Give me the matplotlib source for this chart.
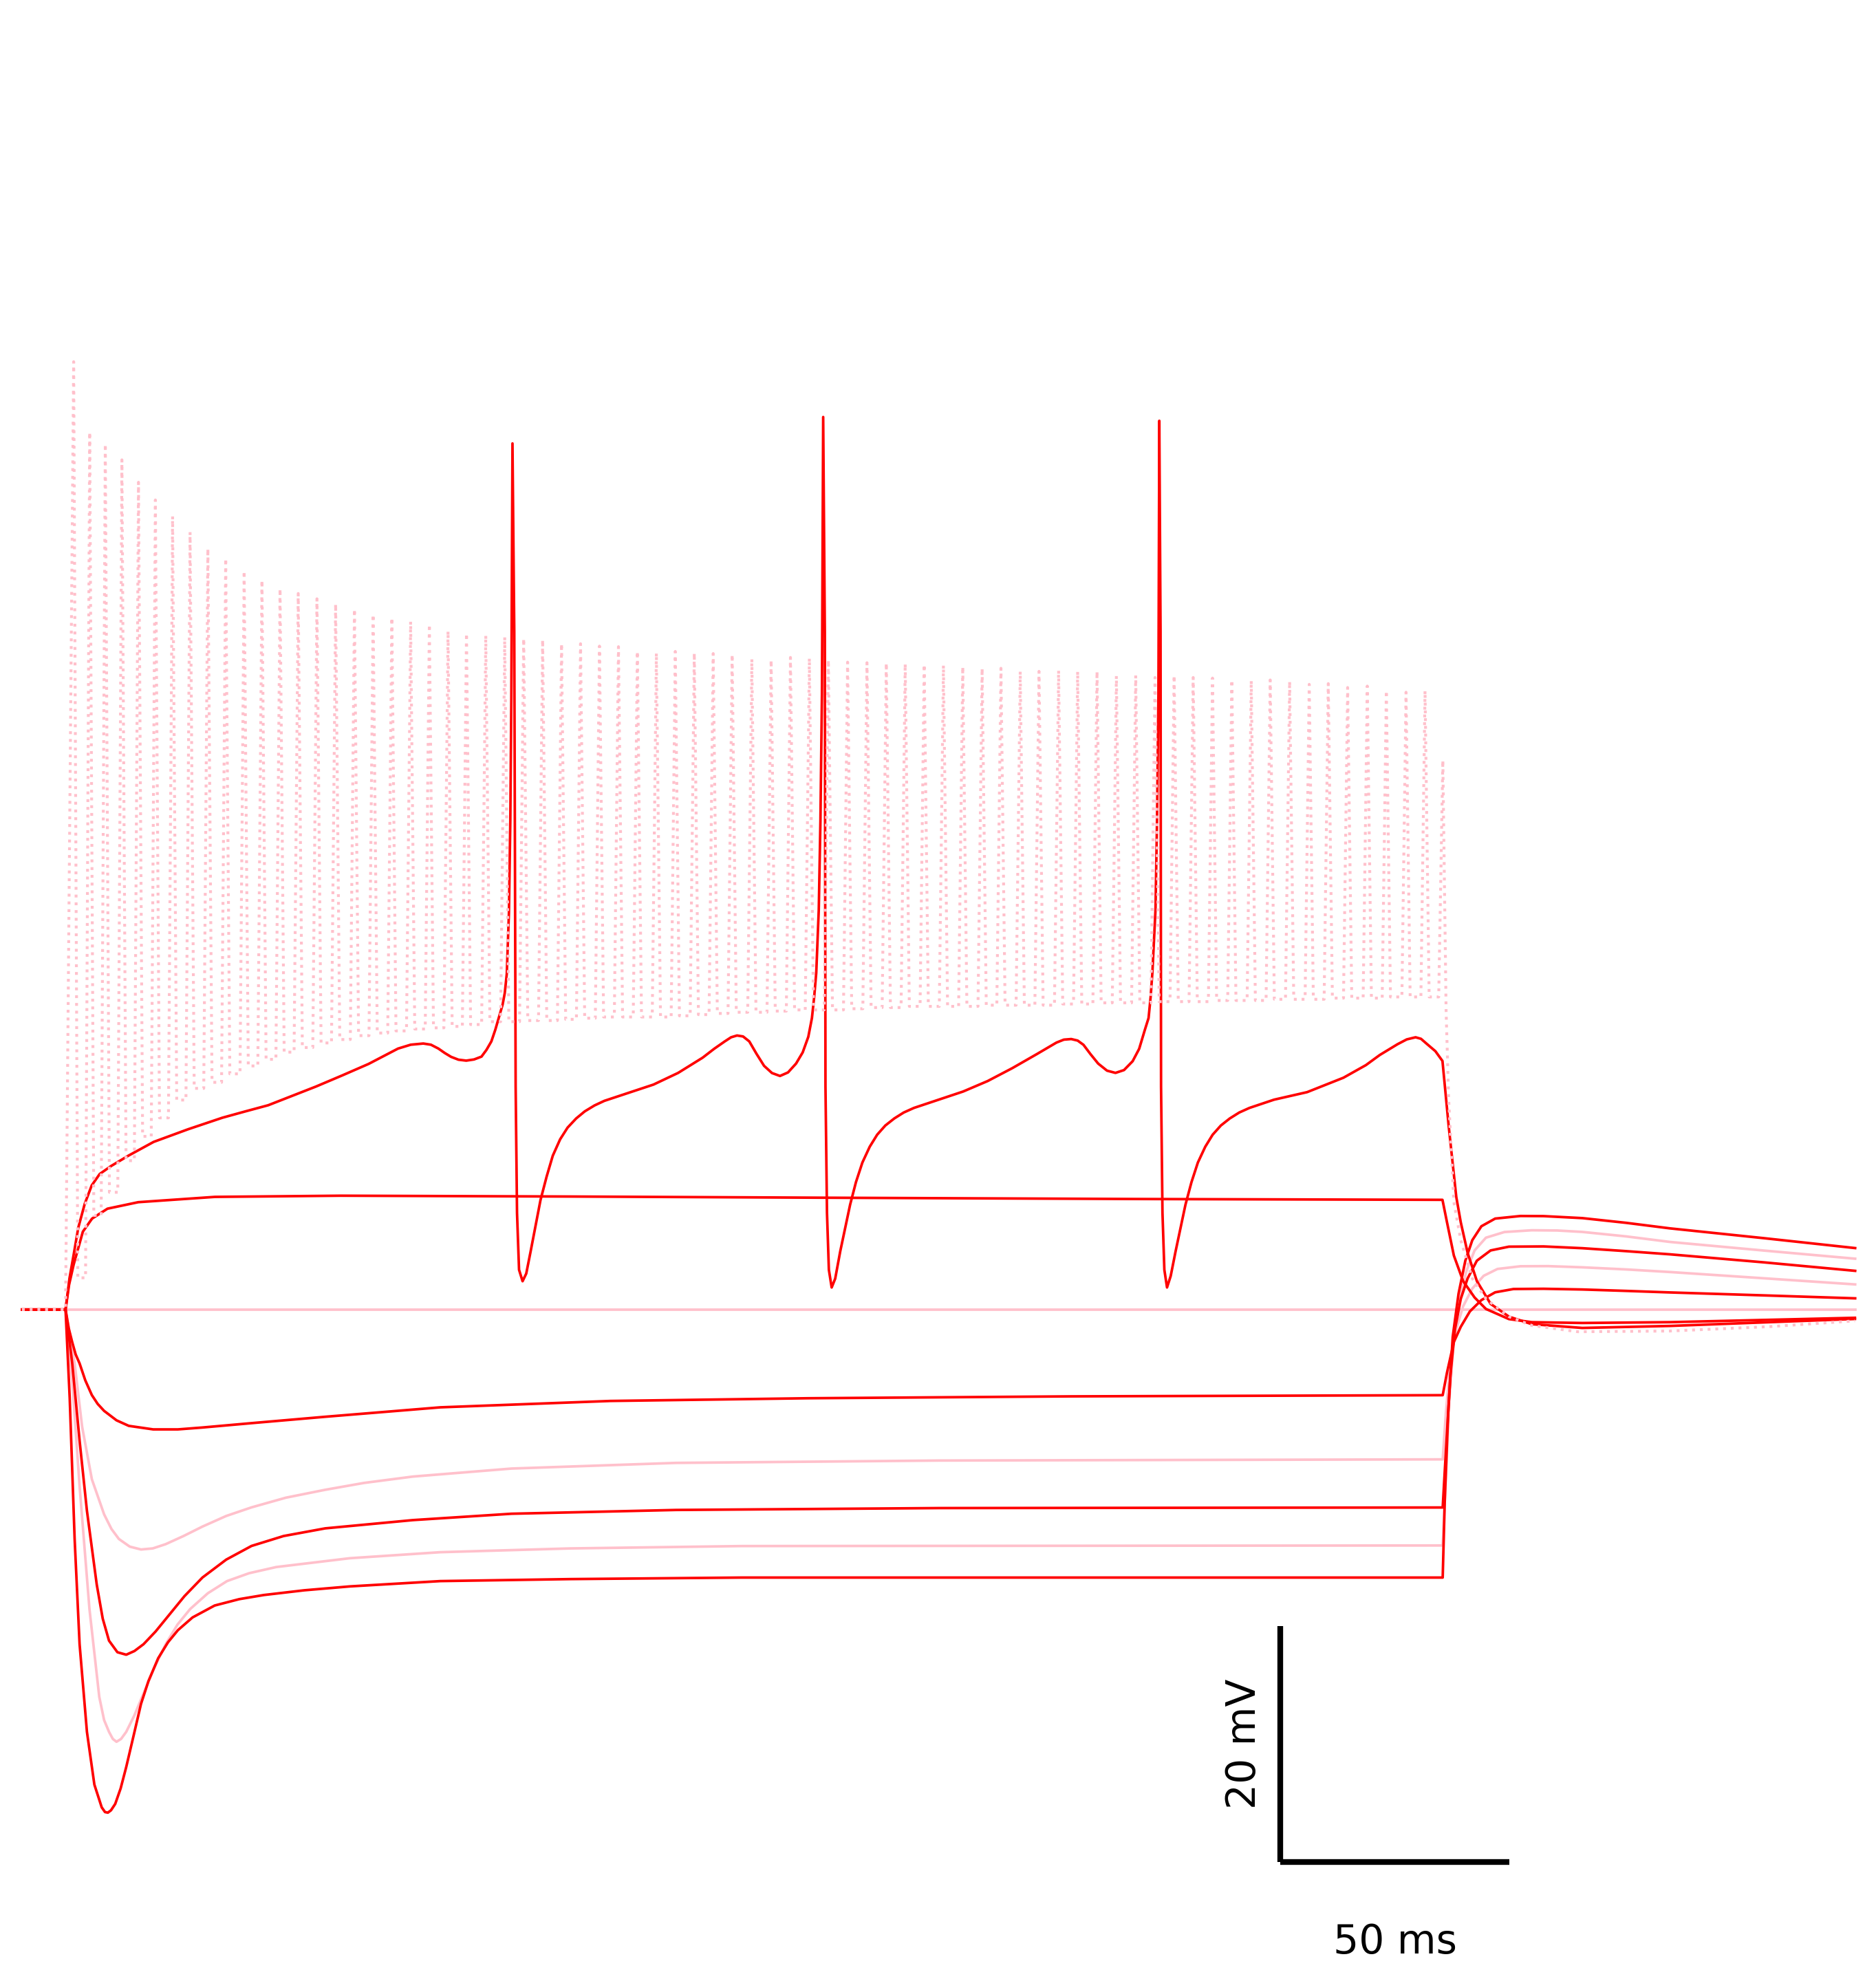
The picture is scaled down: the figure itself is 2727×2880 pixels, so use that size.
import numpy as np
import matplotlib
matplotlib.use('Agg')
import matplotlib.pyplot as plt

RED = '#ff0000'
PINK = '#ffc0cb'

# membrane potential traces, time in ms (step current from 0 to 300 ms), voltage in mV

# hyperpolarising steps
hyp5 = np.array([
    [-9.5, -70], [0, -70], [0.91, -77.54], [1.98, -89.45], [3.06, -98.37], [4.66, -105.8],
    [6.28, -110.27], [7.88, -112.2], [8.6, -112.6], [9.22, -112.65], [9.9, -112.45],
    [10.82, -111.91], [12.0, -110.6], [13.22, -108.78], [14.84, -106.1], [16.44, -103.43],
    [18.06, -101.5], [20.18, -99.56], [22.33, -98.2], [24.48, -97.18], [27.67, -96.1],
    [32.49, -95.09], [37.85, -94.55], [43.2, -94.2], [52.0, -93.8], [61.94, -93.47],
    [81.65, -93.02], [110.0, -92.85], [147.33, -92.72], [300.03, -92.72], [300.47, -86.34],
    [301.22, -78.79], [302.21, -72.32], [303.48, -68.66], [304.96, -65.86], [306.48, -64.12],
    [308.46, -62.94], [311.46, -62.29], [316.97, -62.07], [322.0, -62.08], [330.45, -62.25],
    [340.0, -62.65], [349.56, -63.12], [370.0, -63.95], [389.89, -64.79]])

hyp4 = np.array([
    [-9.5, -70], [0, -70], [1.46, -76.06], [3.06, -84.98], [5.21, -95.39], [7.35, -102.84],
    [8.4, -104.8], [9.47, -105.8], [10.3, -106.4], [11.1, -106.64], [12.1, -106.4],
    [13.22, -105.8], [15.0, -104.4], [16.99, -102.54], [19.3, -100.4], [21.81, -98.37],
    [24.4, -96.7], [27.15, -95.39], [31.0, -94.05], [35.18, -93.02], [40.0, -92.35],
    [45.89, -91.83], [61.94, -91.08], [81.65, -90.57], [110.0, -90.25], [147.33, -90.05],
    [300.03, -90.0], [300.72, -84.18], [301.47, -77.71], [302.46, -72.54], [303.73, -69.09],
    [305.21, -66.71], [306.98, -64.99], [309.45, -63.91], [313.47, -63.43], [319.44, -63.28],
    [325.0, -63.3], [330.45, -63.42], [340.0, -63.8], [349.56, -64.27], [370.0, -65.0],
    [389.89, -65.69]])

hyp3 = np.array([
    [-9.5, -70], [0, -70], [1.46, -74.57], [3.06, -81.12], [4.66, -87.06], [6.8, -93.32],
    [8.1, -96.2], [9.47, -98.07], [11.3, -99.05], [13.22, -99.26], [15.0, -98.95],
    [16.99, -98.37], [19.6, -97.3], [22.33, -96.0], [25.9, -94.3], [29.82, -92.72],
    [35.0, -91.2], [40.52, -90.04], [47.5, -89.2], [56.57, -88.55], [75.65, -87.85],
    [97.15, -87.31], [132.99, -86.99], [190.36, -86.83], [300.03, -86.78], [300.72, -82.03],
    [301.71, -75.56], [302.7, -71.67], [303.97, -69.09], [305.45, -67.37], [307.47, -65.86],
    [310.47, -64.99], [314.46, -64.67], [322.0, -64.65], [330.45, -64.8], [340.0, -65.05],
    [349.56, -65.32], [370.0, -66.0], [389.89, -66.72]])

hyp2 = np.array([
    [-9.5, -70], [0, -70], [1.98, -74.57], [3.61, -79.93], [5.73, -84.38], [8.4, -87.36],
    [10.0, -88.6], [11.62, -89.45], [14.0, -90.1], [16.44, -90.34], [19.0, -90.25],
    [21.81, -89.89], [25.7, -89.2], [29.82, -88.4], [35.0, -87.5], [40.52, -86.77],
    [48.0, -85.95], [56.57, -85.28], [65.0, -84.7], [75.65, -84.16], [97.15, -83.48],
    [132.99, -83.0], [190.36, -82.8], [300.03, -82.7], [300.72, -78.79], [301.71, -74.48],
    [302.98, -71.67], [304.47, -69.73], [306.48, -68.22], [308.96, -67.14], [311.96, -66.56],
    [316.97, -66.33], [323.0, -66.32], [330.45, -66.42], [340.0, -66.6], [349.56, -66.82],
    [370.0, -67.35], [389.89, -67.87]])

hyp1 = np.array([
    [-9.5, -70], [0, -70], [0.7, -71.6], [1.46, -72.78], [2.2, -73.8], [3.06, -74.57],
    [4.3, -76.0], [5.73, -77.25], [7.0, -78.0], [8.4, -78.59], [11.1, -79.39],
    [13.77, -79.86], [19.1, -80.16], [24.48, -80.16], [29.82, -80.0], [40.52, -79.63],
    [56.57, -79.09], [81.65, -78.29], [118.68, -77.75], [161.68, -77.52], [219.02, -77.36],
    [300.03, -77.26], [300.97, -75.34], [302.46, -72.75], [303.97, -71.46], [305.95, -70.16],
    [308.46, -69.2], [311.46, -68.54], [315.45, -68.26], [322.0, -68.24], [330.45, -68.3],
    [340.0, -68.42], [349.56, -68.55], [370.0, -68.8], [389.89, -69.05]])

rest = np.array([[-9.5, -70], [389.89, -70]])

# depolarising step below threshold
dep1 = np.array([
    [-9.5, -70], [0, -70], [0.77, -67.9], [1.76, -66.2], [3.77, -63.4], [5.78, -62.29],
    [9.14, -61.45], [15.83, -60.9], [32.54, -60.45], [60.0, -60.35], [110.0, -60.42],
    [165.0, -60.52], [233.0, -60.63], [299.98, -60.7], [300.97, -62.61], [302.46, -65.42],
    [304.47, -67.58], [306.98, -68.98], [309.45, -69.95], [314.46, -70.81], [319.44, -71.07],
    [330.45, -71.14], [349.53, -71.07], [389.84, -70.7]])

# three-spike trace
dep2 = np.array([
    [-9.5, -70], [0, -70], [0.86, -67.35], [1.79, -65.3], [2.78, -63.05], [4.19, -61.03],
    [5.7, -59.48], [7.44, -58.51], [9.94, -57.83], [13.68, -56.96], [19.19, -55.79],
    [26.68, -54.72], [34.17, -53.74], [39.2, -53.2], [44.16, -52.68], [49.3, -51.9],
    [54.54, -51.1], [60.3, -50.15], [66.02, -49.18], [72.43, -47.88], [75.2, -47.55],
    [77.94, -47.45], [79.6, -47.55], [81.24, -47.88], [82.6, -48.25], [84.0, -48.58],
    [85.6, -48.82], [87.29, -48.9], [89.0, -48.8], [90.62, -48.56], [91.7, -47.99],
    [92.77, -47.27], [93.63, -46.28], [94.37, -45.29], [95.22, -44.15], [95.69, -43.17],
    [96.13, -41.54], [96.6, -36.34], [96.9, -28.53], [97.12, -18.11], [97.37, 3.42],
    [97.76, -12.54], [98.06, -51.1], [98.36, -61.81], [98.8, -66.63], [99.57, -67.6],
    [100.37, -66.95], [101.33, -65.06], [103.48, -60.71], [104.81, -58.73], [106.15, -56.96],
    [107.75, -55.57], [109.37, -54.58], [111.25, -53.8], [113.12, -53.2], [115.24, -52.7],
    [117.38, -52.31], [122.75, -51.62], [128.09, -50.93], [133.46, -49.94], [138.8, -48.65],
    [141.3, -47.9], [143.62, -47.27], [145.0, -46.92], [146.29, -46.77], [147.6, -46.85],
    [148.96, -47.27], [150.5, -48.3], [152.18, -49.34], [153.9, -49.95], [155.65, -50.2],
    [157.4, -49.9], [159.15, -49.15], [160.6, -48.2], [161.82, -46.88], [162.2, -46.1],
    [162.61, -45.29], [163.1, -43.5], [163.55, -41.46], [164.1, -36.1], [164.46, -28.61],
    [164.79, -17.9], [165.06, 5.66], [165.42, -12.54], [165.56, -51.1], [165.89, -61.81],
    [166.3, -66.63], [166.91, -68.13], [167.68, -67.38], [168.78, -65.06], [170.93, -61.11],
    [172.2, -59.2], [173.6, -57.54], [175.2, -56.2], [176.82, -55.18], [178.6, -54.4],
    [180.56, -53.8], [182.6, -53.3], [184.83, -52.91], [190.2, -52.21], [195.54, -51.52],
    [200.9, -50.63], [206.25, -49.54], [211.59, -48.35], [215.88, -47.37], [217.5, -47.12],
    [219.1, -47.07], [220.5, -47.2], [221.77, -47.56], [223.3, -48.35], [224.97, -49.15],
    [226.9, -49.75], [228.74, -49.94], [230.6, -49.7], [232.48, -48.95], [233.9, -47.9],
    [235.15, -46.28], [235.95, -45.29], [236.4, -43.5], [236.78, -41.46], [237.46, -36.1],
    [237.79, -28.61], [238.1, -17.9], [238.29, 5.34], [238.56, -12.54], [238.67, -51.1],
    [238.98, -61.81], [239.39, -66.63], [239.97, -68.13], [240.77, -67.16], [241.84, -65.06],
    [243.99, -61.11], [245.3, -59.2], [246.69, -57.54], [248.3, -56.2], [249.91, -55.18],
    [251.7, -54.4], [253.65, -53.8], [255.7, -53.3], [257.92, -52.91], [263.29, -52.21],
    [270.5, -51.57], [278.4, -50.35], [283.3, -49.28], [286.33, -48.42], [290.18, -47.51],
    [292.2, -47.1], [294.12, -46.92], [295.3, -47.05], [296.57, -47.48], [298.44, -48.1],
    [299.98, -48.93], [301.33, -54.44], [302.99, -60.46], [303.97, -62.61], [305.47, -65.21],
    [307.47, -67.58], [310.47, -69.52], [314.46, -70.6], [319.44, -71.24], [330.45, -71.56],
    [349.53, -71.39], [389.84, -70.8]])

# strongest step: fast repetitive firing (dotted pink)
spike_t = [1.77, 5.26, 8.66, 12.28, 15.89, 19.57, 23.32, 27.13, 31.01, 34.89, 38.91, 42.79,
           46.73, 50.69, 54.77, 58.84, 62.94, 67.01, 71.09, 75.18, 79.26, 83.33, 87.35, 91.55,
           95.68, 99.81, 103.94, 108.06, 112.2, 116.32, 120.46, 124.58, 128.72, 132.84, 136.98,
           141.1, 145.23, 149.52, 153.72, 157.93, 162.05, 166.19, 170.38, 174.6, 178.81, 182.93,
           187.07, 191.26, 195.47, 199.69, 203.79, 207.99, 212.08, 216.35, 220.5, 224.72, 228.94,
           233.15, 237.36, 241.52, 245.67, 249.88, 254.09, 258.32, 262.45, 266.68, 270.95, 275.1,
           279.32, 283.6, 287.75, 292.04, 296.18, 300.06]
spike_peak = [10.35, 4.37, 3.36, 2.03, 0.13, -1.37, -2.76, -4.1, -5.5, -6.34, -7.4, -8.18,
              -8.9, -9.3, -9.75, -10.19, -10.63, -11.08, -11.36, -11.68, -11.92, -12.48, -12.69,
              -12.85, -12.99, -13.12, -13.22, -13.56, -13.56, -13.76, -13.81, -14.21, -14.34,
              -14.21, -14.34, -14.39, -14.47, -14.85, -14.94, -14.72, -14.78, -14.94, -15.12,
              -15.17, -15.2, -15.25, -15.32, -15.38, -15.51, -15.64, -15.64, -15.9, -15.9,
              -15.82, -15.9, -15.9, -16.29, -16.25, -16.42, -16.25, -16.42, -16.47, -16.63,
              -16.68, -16.63, -16.74, -17.0, -16.94, -17.27, -17.15, -17.54, -17.67, -17.54,
              -23.44]
spike_trough = [-67.31, -62.02, -60.06, -57.38, -55.32, -53.75, -52.24, -51.25, -50.74, -50.02,
                -49.35, -48.79, -48.18, -47.79, -47.4, -47.11, -46.78, -46.56, -46.38, -46.22,
                -46.12, -46.0, -45.84, -45.6, -45.6, -45.5, -45.5, -45.4, -45.3, -45.2, -45.2,
                -45.2, -45.2, -45.1, -45.0, -44.9, -44.8, -44.8, -44.7, -44.6, -44.6, -44.6,
                -44.5, -44.4, -44.4, -44.3, -44.3, -44.3, -44.3, -44.2, -44.2, -44.2, -44.2,
                -44.1, -44.1, -44.0, -44.0, -44.0, -43.9, -43.9, -43.9, -43.8, -43.8, -43.8,
                -43.7, -43.7, -43.7, -43.6, -43.6, -43.6, -43.5, -43.5, -43.5]
fast_tail = np.array([
    [300.77, -44.65], [301.33, -52.17], [301.88, -56.45], [302.46, -60.89], [303.97, -64.12],
    [306.48, -67.37], [309.45, -69.09], [314.46, -70.6], [319.44, -71.35], [329.43, -71.88],
    [349.53, -71.82], [371.1, -71.45], [389.84, -70.96]])

# scale bar
bar_t0, bar_v0 = 264.6, -116.84
bar_dt, bar_dv = 50, 20

HALF_W = 0.9  # half width of a fast spike, ms


def fast_trace():
    tt = [-9.5, 0.0]
    vv = [-70.0, -70.0]
    base = -70.0
    for i, (ts, pk) in enumerate(zip(spike_t, spike_peak)):
        if i > 0:
            tt.append(ts - HALF_W)
            vv.append(base)
        tt.append(ts)
        vv.append(pk)
        if i < len(spike_trough):
            tt.append(ts + HALF_W)
            vv.append(spike_trough[i])
            base = spike_trough[i]
    tt += list(fast_tail[:, 0])
    vv += list(fast_tail[:, 1])
    return tt, vv


fig = plt.figure(figsize=(9.09, 9.6), dpi=300)
ax = fig.add_axes([0, 0, 1, 1])
ax.axis('off')

lw = 0.9
for tr in [hyp4, hyp2, rest]:
    ax.plot(tr[:, 0], tr[:, 1], color=PINK, lw=lw, solid_joinstyle='round')
for tr in [hyp5, hyp3, hyp1, dep1, dep2]:
    ax.plot(tr[:, 0], tr[:, 1], color=RED, lw=lw, solid_joinstyle='round')

ft, fv = fast_trace()
ax.plot(ft, fv, color=PINK, lw=1.0, linestyle=(0, (1, 1.7)))

# scale bar
ax.plot([bar_t0, bar_t0], [bar_v0, bar_v0 + bar_dv], color='black', lw=2, solid_capstyle='butt')
ax.plot([bar_t0, bar_t0 + bar_dt], [bar_v0, bar_v0], color='black', lw=2, solid_capstyle='butt')
ax.text(261.0, bar_v0 + bar_dv / 2, '20 mV', rotation=90, ha='right', va='center', fontsize=14)
ax.text(bar_t0 + bar_dt / 2, -124.6, '50 ms', ha='center', va='baseline', fontsize=14)

ax.set_xlim(-14.28, 394.43)
ax.set_ylim(-126.92, 41.01)

fig.savefig('out.png', dpi=300)
